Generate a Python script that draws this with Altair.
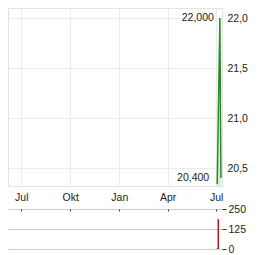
import altair as alt
import pandas as pd

# ---- data ----
price_dates = ["2024-07-03", "2024-07-08", "2024-07-10"]
price_values = [20.34, 22.0, 20.4]
ann_dates = ["2024-07-08", "2024-07-03"]
ann_values = [22.0, 20.4]
vol_dates = ["2024-07-03", "2024-07-05"]
vol_values = [4, 187]
vol_dir = ["up", "down"]
month_names = ["Jan", "Feb", "Mär", "Apr", "Mai", "Jun", "Jul", "Aug", "Sep", "Okt", "Nov", "Dez"]
price_ticks = [20.5, 21.0, 21.5, 22.0]
vol_ticks = [0, 125, 250]
x_tick_dates = [(2023, 7, 1), (2023, 10, 1), (2024, 1, 1), (2024, 4, 1), (2024, 7, 1)]

price_df = pd.DataFrame({"date": price_dates, "price": price_values})
ann_df = pd.DataFrame({"date": ann_dates, "price": ann_values, "kind": ["max", "min"]})
vol_df = pd.DataFrame({"date": vol_dates, "vol": vol_values, "dir": vol_dir})

FONT = "Liberation Sans"
FS = 10.5
TXT = "#222222"

x_vals = [alt.DateTime(year=y, month=m, date=d) for (y, m, d) in x_tick_dates]
x_domain = [alt.DateTime(year=2023, month=6, date=6), alt.DateTime(year=2024, month=7, date=12)]
xscale = alt.Scale(domain=x_domain, padding=0)
month_js = "[" + ",".join("'" + m + "'" for m in month_names) + "]"

x_main = alt.X("date:T", scale=xscale,
               axis=alt.Axis(values=x_vals, grid=True, gridColor="#ebebeb", labels=False,
                             ticks=False, domain=False, title=None))
y_main = alt.Y("price:Q", scale=alt.Scale(domain=[20.32, 22.1], nice=False, zero=False),
               axis=alt.Axis(orient="right", values=price_ticks, grid=True, gridColor="#ebebeb",
                             ticks=False, domain=False, title=None, labelPadding=5,
                             labelFont=FONT, labelFontSize=FS, labelColor=TXT,
                             labelExpr="replace(format(datum.value, '.1f'), '.', ',')"))

area = alt.Chart(price_df).mark_area(color="#9fd69f", opacity=0.45, clip=True).encode(x=x_main, y=y_main)
line = alt.Chart(price_df).mark_line(color="#2a8a2a", strokeWidth=1.5, clip=True).encode(x=x_main, y=y_main)

ann_text = "replace(format(datum.price, '.3f'), '.', ',')"
t_max = alt.Chart(ann_df).transform_filter("datum.kind == 'max'").transform_calculate(
    label=ann_text).mark_text(align="right", baseline="middle", dx=-6, font=FONT, fontSize=FS,
                              color=TXT).encode(x=x_main, y=y_main, text="label:N")
t_min = alt.Chart(ann_df).transform_filter("datum.kind == 'min'").transform_calculate(
    label=ann_text).mark_text(align="right", baseline="middle", dx=-8, font=FONT, fontSize=FS,
                              color=TXT).encode(x=x_main, y=y_main, text="label:N")

main = alt.layer(area, line, t_max, t_min).properties(
    width=214, height=178, view=alt.ViewBackground(stroke="#e3e3e3"))

vol = alt.Chart(vol_df).mark_bar(size=1.5).encode(
    x=alt.X("date:T", scale=alt.Scale(domain=x_domain, padding=0),
            axis=alt.Axis(orient="top", values=x_vals, grid=False, domain=False, ticks=True,
                          tickSize=2, tickColor="#333333", offset=-2, labelPadding=7, title=None,
                          labelFlush=False,
                          labelFont=FONT, labelFontSize=FS, labelColor=TXT,
                          labelExpr=month_js + "[month(datum.value)]")),
    y=alt.Y("vol:Q", scale=alt.Scale(domain=[0, 250], nice=False, padding=0),
            axis=alt.Axis(orient="right", values=vol_ticks, grid=True, gridColor="#cccccc",
                          tickSize=4, tickColor="#333333", domain=False, title=None, labelPadding=2,
                          labelFont=FONT, labelFontSize=FS, labelColor=TXT)),
    color=alt.Color("dir:N", scale=alt.Scale(domain=["up", "down"], range=["#2a8a2a", "#a81818"]),
                    legend=None),
).properties(width=214, height=40, view=alt.ViewBackground(stroke=None))

chart = alt.vconcat(main, vol, spacing=23, bounds="flush").properties(
    padding={"left": 7, "top": 7, "right": 0, "bottom": 0}
).configure_view(stroke=None)

chart.save("out.html", embed_options={"renderer": "svg", "actions": False})
